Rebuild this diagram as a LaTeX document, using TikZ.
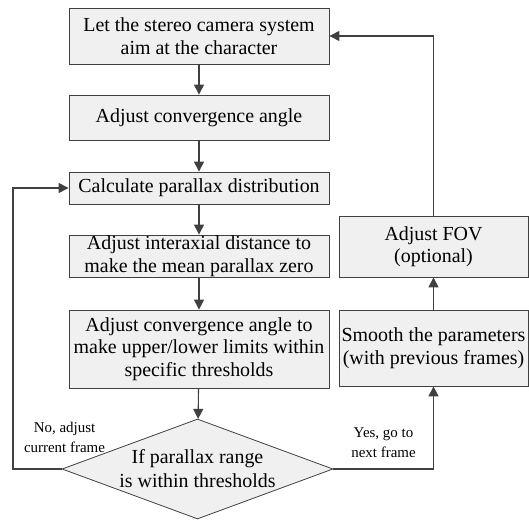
\documentclass[tikz,border=0pt]{standalone}
\usepackage{fontspec}
\setmainfont{Liberation Serif}
\usetikzlibrary{shapes.geometric,arrows.meta}
\definecolor{ln}{HTML}{404040}
\definecolor{bx}{HTML}{F0F0F0}
\tikzset{
  box/.style={draw=ln,fill=bx,line width=0.8bp,inner sep=0pt,align=center,font=\fontsize{20}{22.5}\selectfont},
  dia/.style={draw=ln,fill=bx,line width=0.8bp,diamond,inner sep=0pt},
  dtext/.style={align=center,inner sep=0pt,font=\fontsize{20}{24}\selectfont},
  arr/.style={draw=ln,line width=1.1bp,-{Triangle[length=10bp,width=10bp]}},
  lbl/.style={font=\fontsize{15}{20}\selectfont,align=center,text=black}
}
\begin{document}
\begin{tikzpicture}[x=1bp,y=-1bp]
\useasboundingbox (0,0) rectangle (529,520);
\node[box,minimum width=260bp,minimum height=56bp] (b1) at (199,36) {Let the stereo camera system\\aim at the character};
\node[box,minimum width=260bp,minimum height=45bp] (b2) at (199,117.5) {Adjust convergence angle};
\node[box,minimum width=260bp,minimum height=32bp] (b3) at (199,188) {Calculate parallax distribution};
\node[box,minimum width=260bp,minimum height=42bp] (b4) at (199,256) {Adjust interaxial distance to\\make the mean parallax zero};
\node[box,minimum width=260bp,minimum height=78bp] (b5) at (199,349) {Adjust convergence angle to\\make upper/lower limits within\\specific thresholds};
\node[dia,minimum width=271bp,minimum height=100bp] (d) at (197.5,469) {};
\node[dtext] (dt) at (d.center) {If parallax range\\is within thresholds};
\node[box,minimum width=189bp,minimum height=61bp] (fov) at (433.5,246.5) {Adjust FOV\\(optional)};
\node[box,minimum width=189bp,minimum height=76bp] (sm) at (433.5,348) {Smooth the parameters\\(with previous frames)};
\coordinate (lx) at (13,469);
\draw[arr] (b1) -- (b2);
\draw[arr] (b2) -- (b3);
\draw[arr] (b3) -- (b4);
\draw[arr] (b4) -- (b5);
\draw[arr] (b5) -- (d);
\draw[arr] (d.west) -- (lx) |- (b3.west);
\draw[arr] (d.east) -| (sm.south);
\draw[arr] (sm) -- (fov);
\draw[arr] (fov.north) |- (b1.east);
\node[lbl] (nl) at (64.5,437) {No, adjust\\current frame};
\node[lbl] (yl) at (383.5,443) {Yes, go to\\next frame};
\end{tikzpicture}
\end{document}
